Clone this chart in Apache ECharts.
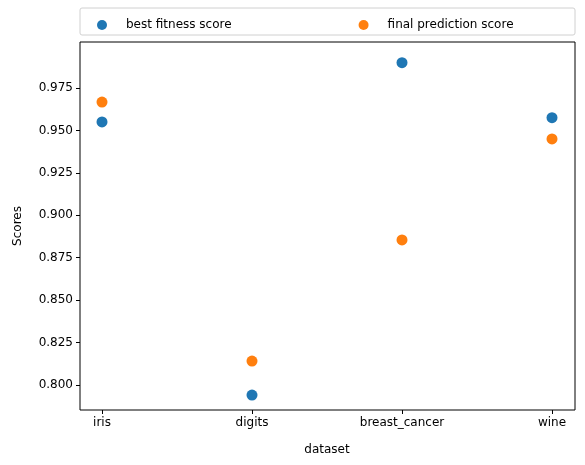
<!DOCTYPE html>
<html><head><meta charset="utf-8">
<script src="https://cdn.jsdelivr.net/npm/echarts@6/dist/echarts.min.js"></script>
<style>html,body{margin:0;background:#fff}#container{width:585px;height:465px}</style>
</head><body><div id="container"></div>
<script>
var datasets = ['iris', 'digits', 'breast_cancer', 'wine'];
var bestFitness = [0.9550, 0.7941, 0.9899, 0.9575];
var finalPrediction = [0.9667, 0.8141, 0.8855, 0.9450];
var yMin = 0.7853, yMax = 1.0021;
var yTicks = [0.8, 0.825, 0.85, 0.875, 0.9, 0.925, 0.95, 0.975];

var chart = echarts.init(document.getElementById('container'), null, { renderer: 'canvas' });
var font = 'DejaVu Sans';
var option = {
    animation: false,
    textStyle: { fontFamily: font },
    graphic: [{
        type: 'rect', shape: { x: 80, y: 8, width: 495, height: 27, r: 2 },
        style: { fill: 'none', stroke: '#d0d0d0', lineWidth: 1 }
    }],
    legend: {
        left: 92, top: 14, itemWidth: 10, itemHeight: 10, itemGap: 127, icon: 'circle',
        textStyle: { fontSize: 12, color: '#000', fontFamily: font, padding: [0, 0, 0, 14] }
    },
    grid: [
        { left: 80, right: 10, top: 42, bottom: 55, show: true, borderColor: '#000', borderWidth: 1 },
        { left: 102, right: 33, top: 42, bottom: 55 }
    ],
    xAxis: [
        { gridIndex: 0, type: 'value', show: false, min: 0, max: 1 },
        {
            gridIndex: 1, type: 'category', data: datasets, boundaryGap: false,
            name: 'dataset', nameLocation: 'middle', nameGap: 34,
            nameTextStyle: { fontSize: 12, color: '#000' },
            axisLine: { show: false },
            axisTick: { show: true, length: 4, lineStyle: { color: '#000' } },
            axisLabel: { fontSize: 12, color: '#000', margin: 7 }
        }
    ],
    yAxis: [
        {
            gridIndex: 0, type: 'value', min: yMin, max: yMax,
            name: 'Scores', nameLocation: 'middle', nameGap: 56,
            nameTextStyle: { fontSize: 12, color: '#000' },
            axisLine: { show: false }, splitLine: { show: false },
            axisTick: { show: true, length: 4, lineStyle: { color: '#000' }, customValues: yTicks },
            axisLabel: { fontSize: 12, color: '#000', margin: 7, customValues: yTicks,
                formatter: function (v) { return v.toFixed(3); } }
        },
        { gridIndex: 1, type: 'value', min: yMin, max: yMax, show: false }
    ],
    series: [
        { name: 'best fitness score', type: 'scatter', xAxisIndex: 1, yAxisIndex: 1, symbolSize: 11,
          itemStyle: { color: '#1f77b4', opacity: 1 }, data: bestFitness },
        { name: 'final prediction score', type: 'scatter', xAxisIndex: 1, yAxisIndex: 1, symbolSize: 11,
          itemStyle: { color: '#ff7f0e', opacity: 1 }, data: finalPrediction }
    ]
};
chart.setOption(option);
</script></body></html>
